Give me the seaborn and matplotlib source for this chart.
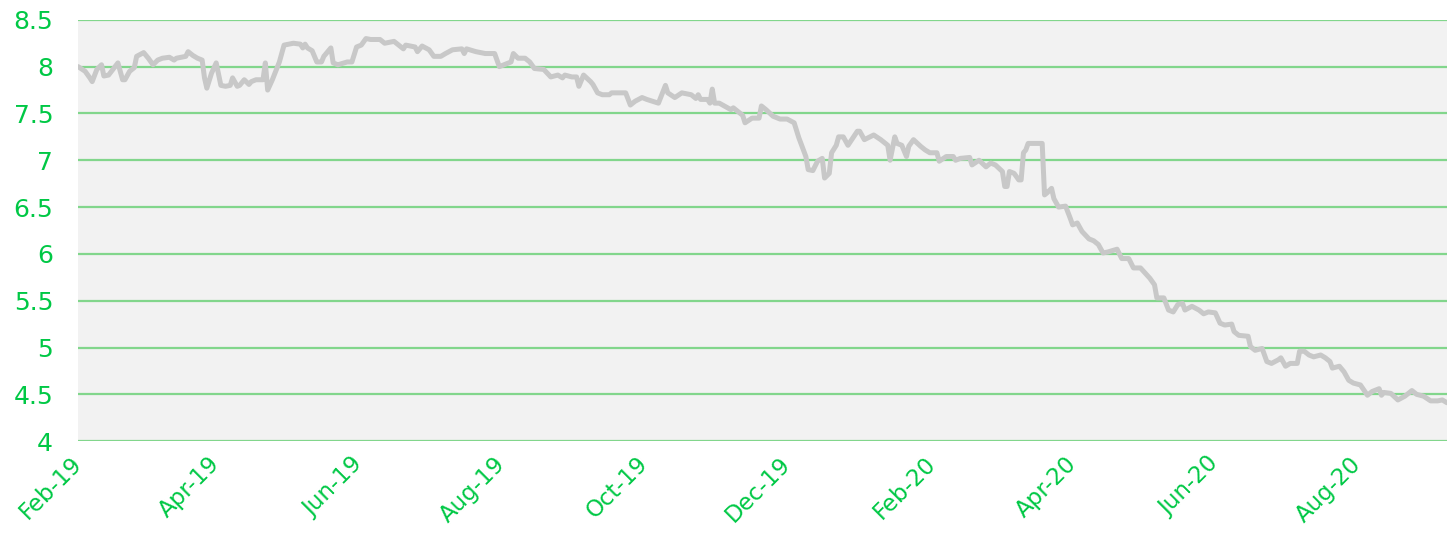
import pandas as pd
import numpy as np
import matplotlib
matplotlib.use("Agg")
import matplotlib.pyplot as plt
import matplotlib.dates as mdates
import seaborn as sns

# days since 1 Feb 2019 and the value on that day
start_date = "2019-02-01"
end_date = "2020-09-08"

days = [
    0, 3, 5, 6, 8, 10, 11, 13, 17, 19, 20, 22, 24, 25, 28, 30, 32, 34, 36, 39,
    41, 42, 46, 47, 49, 51, 53, 54, 55, 57, 59, 61, 63, 65, 66, 68, 69, 71, 73, 74,
    76, 79, 80, 81,
    83, 86, 88, 92, 95, 96, 97, 98, 100, 102, 104, 105, 108, 109, 111, 115, 117, 119, 121, 123,
    125, 129, 131, 135, 138, 139, 140, 144, 145, 147, 150, 152, 155, 157, 160, 164, 165, 166,
    170, 174, 178, 180, 182, 185, 186, 188, 191, 193, 195, 199, 202, 205, 207, 208, 211, 213,
    214, 216, 219, 220, 222, 224, 227, 228, 232, 234, 236, 238, 241, 243, 248, 251,
    252, 255, 258, 262, 264, 265, 266, 269, 270, 271, 272, 274, 279, 280, 284, 285, 288, 291,
    292, 294, 297, 300, 303, 306, 308, 311, 312, 314, 316, 318, 319, 321, 322, 324, 325, 327,
    329, 333, 334,
    336, 340, 343, 346, 347, 349, 350, 352, 354, 355, 357, 360, 362, 364, 367, 368, 371, 374,
    375, 377, 381, 382, 385, 388, 390, 392, 395, 396, 397, 398, 400, 402, 403, 404, 405, 406,
    408, 412, 413, 414, 416, 417,
    419, 422, 424, 425, 427, 429, 432, 434, 436, 438, 440, 444, 446, 449, 451, 454, 458, 460,
    461, 464, 466, 468, 470, 472, 473, 476, 479, 481, 483, 486, 488, 490, 493, 494, 496, 500,
    501, 503, 506, 508, 510, 513, 514, 516, 518, 521, 522, 524, 526, 528, 531, 533, 535, 536,
    539, 541, 543, 545, 548, 551, 553, 556, 557, 558, 561, 564, 567, 570, 572, 575, 578, 581,
    583, 585,
]

values = [
    8.00, 7.95, 7.88, 7.84, 7.97, 8.02, 7.90, 7.91, 8.04, 7.86, 7.86, 7.95, 7.99, 8.11, 8.15, 8.09, 8.02, 8.07, 8.09, 8.10,
    8.07, 8.09, 8.11, 8.16, 8.12, 8.09, 8.07, 7.88, 7.77, 7.93, 8.04, 7.80, 7.79, 7.80, 7.88, 7.79, 7.80, 7.86, 7.81, 7.84,
    7.86, 7.86, 8.04, 7.75,
    7.86, 8.05, 8.23, 8.25, 8.24, 8.20, 8.24, 8.20, 8.17, 8.05, 8.05, 8.11, 8.20, 8.04, 8.02, 8.05, 8.05, 8.21, 8.23, 8.30,
    8.29, 8.29, 8.25, 8.27, 8.21, 8.19, 8.23, 8.21, 8.16, 8.22, 8.18, 8.11, 8.11, 8.14, 8.18, 8.19, 8.14, 8.19,
    8.16, 8.14, 8.14, 8.00, 8.02, 8.05, 8.14, 8.09, 8.09, 8.05, 7.98, 7.97, 7.89, 7.91, 7.88, 7.91, 7.89, 7.89,
    7.79, 7.91, 7.84, 7.81, 7.72, 7.70, 7.70, 7.72, 7.72, 7.72, 7.59, 7.63, 7.67, 7.65, 7.61, 7.80,
    7.72, 7.67, 7.72, 7.70, 7.66, 7.70, 7.65, 7.65, 7.61, 7.76, 7.61, 7.61, 7.54, 7.56, 7.48, 7.40, 7.45, 7.45,
    7.58, 7.54, 7.47, 7.44, 7.44, 7.40, 7.24, 7.04, 6.90, 6.89, 6.99, 7.02, 6.81, 6.86, 7.08, 7.16, 7.25, 7.25,
    7.16, 7.31, 7.31,
    7.22, 7.27, 7.22, 7.16, 7.00, 7.25, 7.18, 7.16, 7.04, 7.15, 7.22, 7.15, 7.11, 7.08, 7.08, 6.99, 7.04, 7.04,
    7.00, 7.02, 7.03, 6.95, 7.00, 6.93, 6.97, 6.95, 6.88, 6.72, 6.72, 6.88, 6.86, 6.79, 6.79, 7.08, 7.11, 7.18,
    7.18, 7.18, 6.63, 6.65, 6.70, 6.59,
    6.50, 6.51, 6.38, 6.31, 6.33, 6.24, 6.16, 6.14, 6.10, 6.01, 6.02, 6.05, 5.95, 5.95, 5.85, 5.85, 5.74, 5.67,
    5.53, 5.53, 5.40, 5.38, 5.46, 5.47, 5.40, 5.44, 5.40, 5.36, 5.38, 5.37, 5.26, 5.24, 5.25, 5.17, 5.13, 5.12,
    5.01, 4.97, 4.99, 4.85, 4.83, 4.87, 4.89, 4.80, 4.83, 4.83, 4.96, 4.96, 4.92, 4.90, 4.92, 4.89, 4.85, 4.78,
    4.80, 4.74, 4.65, 4.62, 4.60, 4.49, 4.53, 4.56, 4.49, 4.52, 4.51, 4.44, 4.48, 4.54, 4.50, 4.48, 4.43, 4.43,
    4.44, 4.41,
]

y_ticks = [4, 4.5, 5, 5.5, 6, 6.5, 7, 7.5, 8, 8.5]
y_labels = ["4", "4.5", "5", "5.5", "6", "6.5", "7", "7.5", "8", "8.5"]

df = pd.DataFrame({
    "date": pd.to_datetime(start_date) + pd.to_timedelta(days, unit="D"),
    "value": values,
})

sns.set_style("white")
plt.rcParams["font.family"] = ["DejaVu Sans"]

green_text = "#00c845"
green_grid = "#82d68c"

fig = plt.figure(figsize=(14.47, 5.36), dpi=100)
ax = fig.add_axes([0.054, 0.177, 0.946, 0.786])
ax.set_facecolor("#f2f2f2")

sns.lineplot(data=df, x="date", y="value", ax=ax, color="#c8c8c8", linewidth=3.6)

ax.set_xlim(pd.to_datetime(start_date), pd.to_datetime(end_date))
ax.set_ylim(4, 8.5)
ax.set_yticks(y_ticks)
ax.set_yticklabels(y_labels)

ax.xaxis.set_major_locator(mdates.MonthLocator(bymonth=[2, 4, 6, 8, 10, 12]))
ax.xaxis.set_major_formatter(mdates.DateFormatter("%b-%y"))

ax.grid(axis="y", color=green_grid, linewidth=1.6)
ax.grid(axis="x", visible=False)
ax.set_axisbelow(True)
for s in ax.spines.values():
    s.set_visible(False)

ax.tick_params(axis="y", length=0, pad=18, labelsize=18, labelcolor=green_text)
ax.tick_params(axis="x", length=0, pad=14, labelsize=16.5, labelcolor=green_text)
for lbl in ax.get_xticklabels():
    lbl.set_rotation(45)
    lbl.set_ha("right")
    lbl.set_va("center")
    lbl.set_rotation_mode("anchor")

ax.set_xlabel("")
ax.set_ylabel("")

fig.savefig("out.png", dpi=100)
